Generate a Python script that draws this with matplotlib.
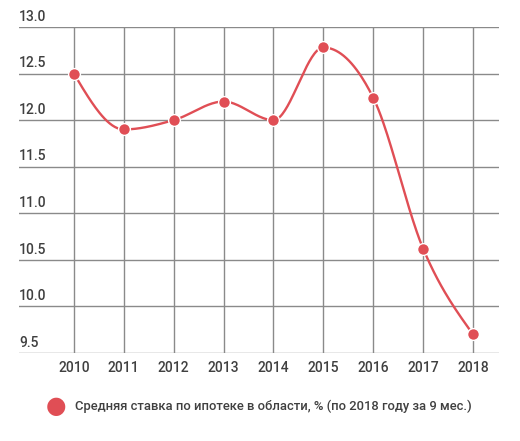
#!/usr/bin/env python3
"""Average mortgage rate in the region, smooth line with markers."""

import numpy as np
import matplotlib
matplotlib.use("Agg")
import matplotlib.pyplot as plt

YEARS = [2010, 2011, 2012, 2013, 2014, 2015, 2016, 2017, 2018]
RATES = [12.5, 11.9, 12.0, 12.2, 12.0, 12.78, 12.24, 10.62, 9.70]
Y_TICKS = [9.5, 10.0, 10.5, 11.0, 11.5, 12.0, 12.5, 13.0]
LEGEND_LABEL = "Средняя ставка по ипотеке в области, % (по 2018 году за 9 мес.)"

RED = "#e04e55"
GRID = "#8a8a8a"
TEXT = "#404040"

plt.rcParams["font.family"] = ["Roboto", "DejaVu Sans"]


def monotone_curve(x, y, steps=40):
    # monotone cubic (Fritsch-Carlson / d3 monotoneX) through the points
    x = np.asarray(x, float)
    y = np.asarray(y, float)
    h = np.diff(x)
    d = np.diff(y) / h
    n = len(x)
    m = np.zeros(n)
    for i in range(1, n - 1):
        if d[i - 1] * d[i] <= 0:
            m[i] = 0.0
        else:
            s0, s1 = d[i - 1], d[i]
            p = (s0 * h[i] + s1 * h[i - 1]) / (h[i - 1] + h[i])
            m[i] = (np.sign(s0) + np.sign(s1)) * min(abs(s0), abs(s1), 0.5 * abs(p))
    m[0] = (3 * d[0] - m[1]) / 2
    m[-1] = (3 * d[-1] - m[-2]) / 2
    xs, ys = [], []
    for i in range(n - 1):
        t = np.linspace(0, 1, steps)
        h00 = 2 * t**3 - 3 * t**2 + 1
        h10 = t**3 - 2 * t**2 + t
        h01 = -2 * t**3 + 3 * t**2
        h11 = t**3 - t**2
        xs.append(x[i] + t * h[i])
        ys.append(h00 * y[i] + h10 * h[i] * m[i] + h01 * y[i + 1] + h11 * h[i] * m[i + 1])
    return np.concatenate(xs), np.concatenate(ys)


def main() -> None:
    fig = plt.figure(figsize=(5.2, 4.41), dpi=100)
    ax = fig.add_axes([19 / 520, 1 - 353 / 441, 480 / 520, 326 / 441])

    ax.set_xlim(2008.9, 2018.52)
    ax.set_ylim(9.5, 13.0)

    for v in Y_TICKS:
        ax.axhline(v, color=GRID, linewidth=1.0, zorder=1)
        ax.text(2008.9, v + 0.035, f"{v:.1f}", ha="left", va="bottom",
                fontsize=10, fontweight="medium", color=TEXT)
    for yr in YEARS:
        ax.axvline(yr, color=GRID, linewidth=1.0, zorder=1)

    cx, cy = monotone_curve(YEARS, RATES)
    ax.plot(cx, cy, color=RED, linewidth=1.7, zorder=3, solid_capstyle="round")
    ax.plot(YEARS, RATES, linestyle="none", marker="o", markersize=8.5,
            markerfacecolor=RED, markeredgecolor="white", markeredgewidth=1.0, zorder=4)

    ax.set_xticks(YEARS)
    ax.set_xticklabels([str(y) for y in YEARS], fontweight="medium")
    ax.set_yticks([])
    ax.tick_params(axis="x", length=0, pad=6, labelsize=10, labelcolor=TEXT)
    for spine in ax.spines.values():
        spine.set_visible(False)

    fig.text(56 / 520, 1 - 406 / 441, "●", color=RED, fontsize=17,
             ha="center", va="center", family="DejaVu Sans")
    fig.text(75 / 520, 1 - 406 / 441, LEGEND_LABEL, color=TEXT, fontsize=9.4,
             fontweight="medium", ha="left", va="center")

    fig.savefig("out.png", dpi=100)
    plt.close(fig)


if __name__ == "__main__":
    main()
